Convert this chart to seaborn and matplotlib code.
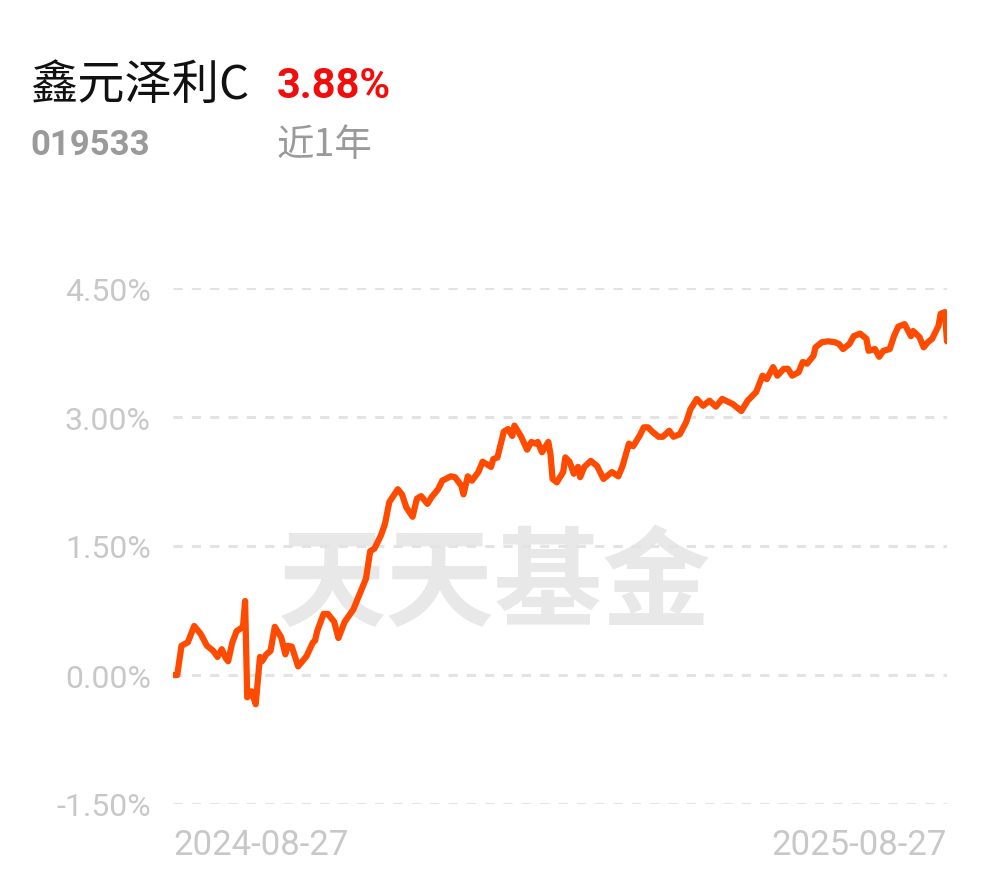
import numpy as np
import pandas as pd
import seaborn as sns
import matplotlib.pyplot as plt
from matplotlib.ticker import FuncFormatter

# fund info
fund_name = '鑫元泽利C'
fund_code = '019533'
period_label = '近1年'
period_return = '3.88%'
start_label = '2024-08-27'
end_label = '2025-08-27'

# day offset from 2024-08-27
days = [0, 2, 4, 7, 10, 13, 16, 19, 21, 23, 25, 26, 28, 30, 33, 34, 35, 37, 39, 41,
        42, 44, 46, 48, 51, 53, 54, 56, 59, 61, 63, 66, 67, 68, 71, 73, 76, 78, 81, 85,
        88, 91, 93, 95, 98, 100, 102, 106, 108, 110, 113, 115, 117, 120, 122, 125, 127, 131, 133, 136,
        137, 139, 141, 144, 146, 148, 150, 151, 153, 156, 158, 160, 161, 164, 167, 169, 171, 172, 174, 177,
        178, 179, 181, 184, 185, 187, 189, 191, 192, 194, 197, 200, 203, 207, 210, 212, 215, 217, 220, 222,
        224, 226, 229, 231, 234, 236, 239, 242, 244, 247, 250, 253, 256, 259, 264, 268, 271, 275, 278, 280,
        283, 285, 288, 290, 292, 295, 297, 299, 302, 303, 306, 309, 312, 314, 316, 319, 321, 324, 327, 328,
        331, 333, 335, 338, 340, 342, 345, 348, 349, 352, 354, 356, 358, 361, 362, 364, 365]

# cumulative return, %
returns = [0.00, 0.00, 0.34, 0.38, 0.57, 0.48, 0.34, 0.28, 0.21, 0.30, 0.19, 0.16, 0.38, 0.51, 0.56, 0.86, -0.26, -0.19, -0.34, 0.21,
           0.16, 0.24, 0.28, 0.56, 0.44, 0.24, 0.34, 0.33, 0.10, 0.16, 0.22, 0.38, 0.40, 0.51, 0.71, 0.71, 0.62, 0.43, 0.62, 0.76,
           0.94, 1.12, 1.44, 1.47, 1.62, 1.76, 2.01, 2.16, 2.10, 1.95, 1.84, 2.05, 2.08, 1.99, 2.07, 2.16, 2.26, 2.31, 2.30, 2.20,
           2.10, 2.31, 2.26, 2.36, 2.48, 2.45, 2.42, 2.51, 2.53, 2.83, 2.86, 2.78, 2.90, 2.78, 2.62, 2.71, 2.69, 2.71, 2.59, 2.71,
           2.57, 2.28, 2.24, 2.36, 2.53, 2.48, 2.34, 2.42, 2.30, 2.42, 2.49, 2.43, 2.28, 2.36, 2.31, 2.43, 2.69, 2.66, 2.78, 2.88,
           2.88, 2.83, 2.77, 2.77, 2.84, 2.77, 2.80, 2.94, 3.09, 3.21, 3.13, 3.19, 3.12, 3.21, 3.15, 3.07, 3.19, 3.29, 3.48, 3.44,
           3.58, 3.48, 3.56, 3.56, 3.48, 3.52, 3.64, 3.62, 3.71, 3.81, 3.87, 3.88, 3.87, 3.85, 3.79, 3.85, 3.94, 3.97, 3.91, 3.77,
           3.79, 3.70, 3.77, 3.79, 3.94, 4.05, 4.08, 3.94, 4.00, 3.93, 3.81, 3.87, 3.91, 4.06, 4.20, 4.22, 3.88]

y_ticks = [-1.5, 0.0, 1.5, 3.0, 4.5]

df = pd.DataFrame({'day': days, 'ret': returns})

sns.set_style('white')
plt.rcParams['font.family'] = ['Roboto', 'Noto Sans CJK SC', 'DejaVu Sans']

fig = plt.figure(figsize=(9.9, 8.78), dpi=100)
ax = fig.add_axes([173 / 990, 73 / 878, 774 / 990, 516 / 878])

# watermark
ax.text(0.415, 0.424, '天天基金', transform=ax.transAxes, ha='center', va='center',
        fontsize=78, fontweight='bold', color='#e8e8e8', family=['Noto Sans CJK SC'], zorder=0)

for t in y_ticks:
    ax.axhline(t, color='#e3e3e3', lw=2.2, ls=(0, (3, 3)), zorder=1)

sns.lineplot(data=df, x='day', y='ret', ax=ax, color='#ff4b00', lw=4.5, zorder=3,
             solid_joinstyle='round', solid_capstyle='round')

ax.set_xlim(0, 365)
ax.set_ylim(-1.5, 4.5)
ax.set_yticks(y_ticks)
ax.yaxis.set_major_formatter(FuncFormatter(lambda v, p: f'{v:.2f}%'))
ax.set_xticks([0, 365])
ax.set_xticklabels([start_label, end_label])
xl = ax.get_xticklabels()
xl[0].set_ha('left')
xl[1].set_ha('right')
ax.tick_params(axis='y', length=0, pad=16, labelsize=23, labelcolor='#c8c8c8')
ax.tick_params(axis='x', length=0, pad=17, labelsize=25, labelcolor='#c8c8c8')
ax.set_xlabel('')
ax.set_ylabel('')
for s in ax.spines.values():
    s.set_visible(False)
ax.grid(False)

# header
fig.text(30 / 990, 1 - 86 / 878, fund_name, fontsize=34, color='#111111', va='center',
         family=['Noto Sans CJK SC'])
fig.text(277 / 990, 1 - 86 / 878, period_return, fontsize=30, color='#f20c0c', va='center',
         fontweight='bold')
fig.text(30 / 990, 1 - 146 / 878, fund_code, fontsize=25, color='#9a9a9a', va='center',
         fontweight='bold')
fig.text(277 / 990, 1 - 146 / 878, period_label, fontsize=27, color='#9a9a9a', va='center',
         family=['Noto Sans CJK SC'])

fig.savefig('out.png', dpi=100)
